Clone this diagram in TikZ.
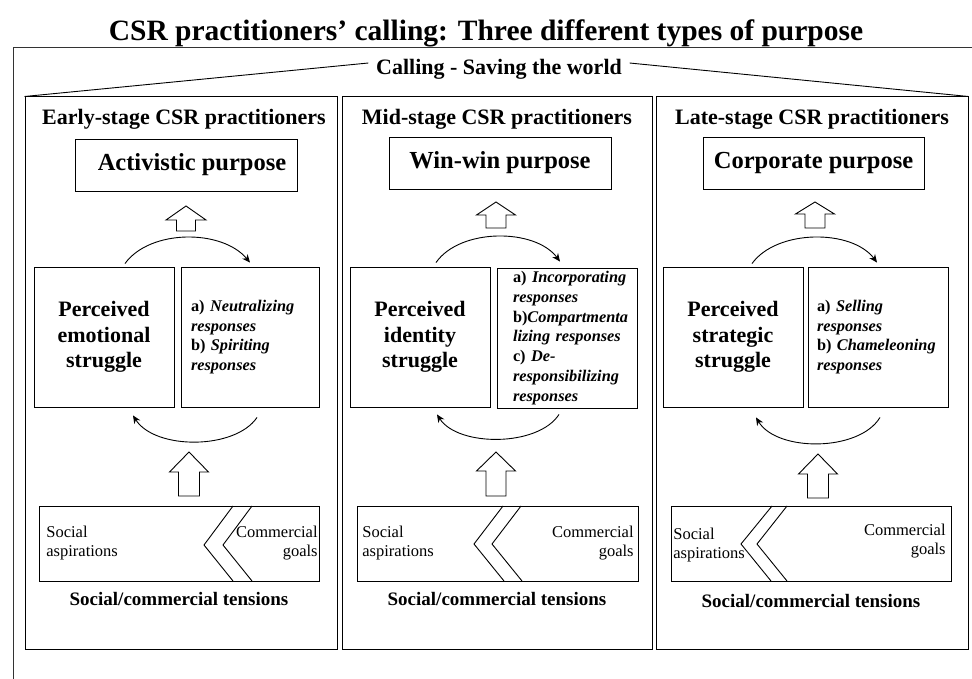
\documentclass[tikz,border=0pt]{standalone}
\usepackage{fontspec}
\setmainfont{Liberation Serif}
\usetikzlibrary{arrows.meta}
\newcommand\keepwords{\hyphenpenalty=10000\relax\exhyphenpenalty=10000\relax}
\begin{document}
\begin{tikzpicture}[x=1pt,y=-1pt,line width=0.8pt,
  titlefont/.style={font=\fontsize{29.5}{34}\selectfont\bfseries},
  headfont/.style={font=\fontsize{22}{26}\selectfont\bfseries},
  panel/.style={draw,line width=1pt,minimum height=552pt,inner sep=0pt},
  purposebox/.style={draw,line width=0.9pt,minimum width=222pt,minimum height=52pt,inner sep=0pt,
    font=\fontsize{24.5}{28}\selectfont\bfseries},
  strugglebox/.style={draw,line width=0.9pt,minimum width=140pt,minimum height=140pt,inner sep=0pt,
    align=center,font=\fontsize{22}{25.5}\selectfont\bfseries},
  responsebox/.style={draw,line width=0.9pt,minimum height=140pt,inner ysep=0pt,
    align=left,font=\fontsize{16.3}{19.7}\selectfont\bfseries\keepwords},
  tensionbox/.style={draw,line width=0.9pt,minimum width=280pt,minimum height=75pt,inner sep=0pt},
  sidetext/.style={inner sep=0pt,font=\fontsize{16.5}{19}\selectfont},
  tensionlabel/.style={font=\fontsize{19}{22}\selectfont\bfseries},
  cycle arrow/.style={line width=0.9pt,-{Stealth[length=8pt,width=7pt]}},
  hollow/.style={draw,line width=0.9pt,fill=white},
  pics/uparrow/.style args={#1/#2/#3/#4}{code={
    \draw[hollow] (0,0) -- (#3,#1) -- (#4,#1) -- (#4,#2) -- (-#4,#2) -- (-#4,#1) -- (-#3,#1) -- cycle;}},
  chevron/.style={line width=0.9pt}
]
\useasboundingbox (0,0) rectangle (972,679);

% title and outer frame
\node[titlefont] (title) at (486,33) {CSR practitioners’ calling: Three different types of purpose};
\draw[black!80,line width=0.9pt] (13,679) -- (13,47) -- (972,47);

% three stage panels
\node[panel,minimum width=312pt] (p1) at (181,373) {};
\node[panel,minimum width=310pt] (p2) at (497,373) {};
\node[panel,minimum width=312pt] (p3) at (812,373) {};

% calling banner joined to the outer panel corners
\node[headfont] (calling) at (499,69) {Calling - Saving the world};
\draw[line width=0.9pt] ([shift={(-4,-6)}]calling.west) -- (p1.north west);
\draw[line width=0.9pt] ([shift={(4,-6)}]calling.east) -- (p3.north east);

% panel headings
\node[headfont] (h1) at (184,119) {Early-stage CSR practitioners};
\node[headfont] (h2) at (497,119) {Mid-stage CSR practitioners};
\node[headfont] (h3) at (812,119) {Late-stage CSR practitioners};

% purposes
\node[purposebox] (u1) at (186,165) {\hspace*{12pt}Activistic purpose};
\node[purposebox] (u2) at (500,163) {Win-win purpose};
\node[purposebox,minimum width=221pt] (u3) at (813.5,163) {Corporate purpose};

% struggles and responses
\node[strugglebox] (s1) at (104,337) {Perceived\\emotional\\struggle};
\node[responsebox,text width=118pt,inner xsep=10pt] (r1) at (250,337)
  {a)~\textit{Neutralizing}\\\textit{responses}\\b)~\textit{Spiriting}\\\textit{responses}};

\node[strugglebox] (s2) at (420,337) {Perceived\\identity\\struggle};
\node[responsebox,text width=108pt,inner xsep=16pt] (r2) at (567,338)
  {a)~\textit{Incorporating}\\\textit{responses}\\b)\textit{Compartmenta}\\\textit{lizing~responses}\\c)~\textit{De-}\\\textit{responsibilizing}\\\textit{responses}};

\node[strugglebox] (s3) at (733,337) {Perceived\\strategic\\struggle};
\node[responsebox,text width=122pt,inner xsep=9pt] (r3) at (878,337)
  {a)~\textit{Selling}\\\textit{responses}\\b)~\textit{Chameleoning}\\\textit{responses}};

% cycles between struggle and responses
\draw[cycle arrow] ([shift={(21,-3)}]s1.north) .. controls (150,229) and (222,229) .. ([shift={(0,-4)}]r1.north);
\draw[cycle arrow] ([shift={(7,10)}]r1.south) .. controls (235,450) and (155,450) .. ([shift={(29,8)}]s1.south);

\draw[cycle arrow] ([shift={(16,-4)}]s2.north) .. controls (460,228) and (535,228) .. ([shift={(-7,-6)}]r2.north);
\draw[cycle arrow] ([shift={(-8,6)}]r2.south) .. controls (538,447) and (458,447) .. ([shift={(17,7)}]s2.south);

\draw[cycle arrow] ([shift={(19,-3)}]s3.north) .. controls (777,229) and (852,229) .. ([shift={(-1,-4)}]r3.north);
\draw[cycle arrow] ([shift={(2,10)}]r3.south) .. controls (859,452) and (777,452) .. ([shift={(23,10)}]s3.south);

% block arrows towards the purposes
\pic at (186,206) {uparrow=14/25/20/9.5};
\pic at (496,202) {uparrow=13/26/19.5/10};
\pic at (815,202) {uparrow=12/26/19.5/10};

% block arrows out of the tensions
\pic at (189,452) {uparrow=20/44/19.5/10.5};
\pic at (496,452) {uparrow=19/44/19.5/10};
\pic at (818,454) {uparrow=20/44/19.5/10.5};

% social/commercial tensions
\node[tensionbox] (t1) at (179,543.5) {};
\draw[chevron] (233,506) -- (204,545) -- (233,581);
\draw[chevron] (252,506) -- (223,545) -- (252,581);
\node[sidetext,align=left,anchor=west] (a1) at (46,543.5) {Social\\aspirations};
\node[sidetext,align=right,anchor=east] (c1) at (318,543.5) {Commercial\\goals};
\node[tensionlabel] (l1) at (179,599) {Social/commercial tensions};

\node[tensionbox,minimum width=281pt] (t2) at (497.5,543.5) {};
\draw[chevron] (503,506) -- (474,544) -- (504,581);
\draw[chevron] (521,506) -- (492,544) -- (522,581);
\node[sidetext,align=left,anchor=west] (a2) at (362,543.5) {Social\\aspirations};
\node[sidetext,align=right,anchor=east] (c2) at (634,543.5) {Commercial\\goals};
\node[tensionlabel] (l2) at (497,599) {Social/commercial tensions};

\node[tensionbox] (t3) at (811,543.5) {};
\draw[chevron] (772,506) -- (741,544) -- (771,581);
\draw[chevron] (787,506) -- (757,544) -- (787,581);
\node[sidetext,align=left,anchor=west] (a3) at (673,545.5) {Social\\aspirations};
\node[sidetext,align=right,anchor=east] (c3) at (946,541.5) {Commercial\\goals};
\node[tensionlabel] (l3) at (811,601) {Social/commercial tensions};
\end{tikzpicture}
\end{document}
